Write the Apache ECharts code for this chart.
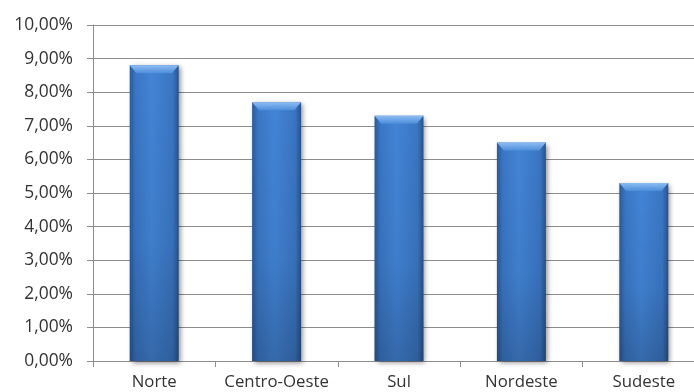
<!DOCTYPE html>
<html>
<head>
<meta charset="utf-8">
<script src="https://cdn.jsdelivr.net/npm/echarts@6/dist/echarts.min.js"></script>
<style>html,body{margin:0;padding:0;background:#fff;}#c{width:694px;height:392px;}</style>
</head>
<body>
<div id="c"></div>
<script>
const categories = ['Norte', 'Centro-Oeste', 'Sul', 'Nordeste', 'Sudeste'];
const values = [8.8, 7.7, 7.3, 6.5, 5.3];
const yTickLabels = ['0,00%', '1,00%', '2,00%', '3,00%', '4,00%', '5,00%', '6,00%', '7,00%', '8,00%', '9,00%', '10,00%'];

const chart = echarts.init(document.getElementById('c'), null, {renderer: 'canvas'});
const font = '"Open Sans", "Noto Sans", sans-serif';
const G = echarts.graphic.LinearGradient;
chart.setOption({
  animation: false,
  grid: {left: 93, top: 25, width: 612, bottom: 31, containLabel: false, outerBoundsMode: 'none'},
  xAxis: {
    type: 'category', data: categories,
    axisLine: {lineStyle: {color: '#8c8c8c', width: 1}},
    axisTick: {show: true, length: 6, lineStyle: {color: '#8c8c8c'}},
    axisLabel: {color: '#333', fontFamily: font, fontSize: 16.8, margin: 13, interval: 0}
  },
  yAxis: {
    type: 'value', min: 0, max: 10, interval: 1,
    axisLine: {show: true, lineStyle: {color: '#8c8c8c', width: 1}},
    axisTick: {show: true, length: 6, lineStyle: {color: '#8c8c8c'}},
    splitLine: {lineStyle: {color: '#8c8c8c', width: 1}},
    axisLabel: {color: '#333', fontFamily: font, fontSize: 17.4, margin: 20,
      formatter: (v) => yTickLabels[Math.round(v)]}
  },
  series: [
    {
      type: 'bar', data: values, barWidth: '40%', z: 2,
      itemStyle: {
        color: new G(0, 0, 1, 0, [
          {offset: 0, color: '#2a5a98'},
          {offset: 0.12, color: '#3a76c4'},
          {offset: 0.45, color: '#4284d6'},
          {offset: 0.88, color: '#3a75c2'},
          {offset: 1, color: '#27538c'}
        ]),
        shadowBlur: 5, shadowColor: 'rgba(0,0,0,0.45)', shadowOffsetX: 2, shadowOffsetY: 2
      }
    },
    {
      type: 'bar', data: values, barWidth: '40%', barGap: '-100%', z: 3,
      itemStyle: {
        color: new G(0, 0, 0, 1, [
          {offset: 0, color: 'rgba(0,0,0,0)'},
          {offset: 0.6, color: 'rgba(0,0,0,0.05)'},
          {offset: 1, color: 'rgba(0,0,0,0.2)'}
        ])
      }
    },
    {
      type: 'pictorialBar', data: values, z: 4,
      symbol: 'path://M0,0 L50,0 L43,8 L7,8 Z',
      symbolSize: [49, 8], symbolPosition: 'end', symbolOffset: [0, 0],
      itemStyle: {
        color: new G(0, 0, 0, 1, [
          {offset: 0, color: '#8cbdf2'},
          {offset: 1, color: '#4d8ddb'}
        ])
      }
    }
  ]
});
</script>
</body>
</html>
